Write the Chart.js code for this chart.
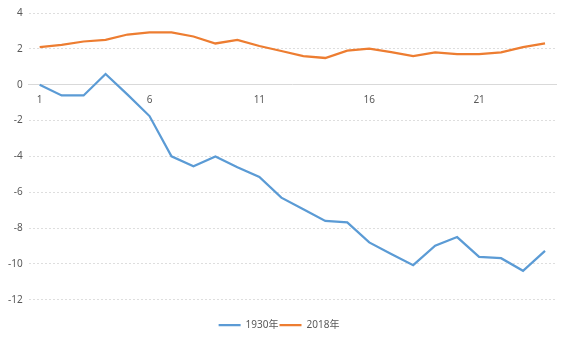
<!DOCTYPE html>
<html>
<head>
<meta charset="utf-8">
<script src="https://cdn.jsdelivr.net/npm/chart.js@4"></script>
<style>
  html, body { margin: 0; padding: 0; background: #fff; }
  #wrap { width: 568px; height: 342px; }
</style>
</head>
<body>
<div id="wrap"><canvas id="myChart" width="568" height="342"></canvas></div>
<script>
const ctx = document.getElementById('myChart');

const days = ['1','2','3','4','5','6','7','8','9','10','11','12','13','14','15','16','17','18','19','20','21','22','23','24'];
const seriesNames = ['1930年', '2018年'];
const values1930 = [0, -0.6, -0.6, 0.6, -0.55, -1.75, -4.0, -4.55, -4.0, -4.6, -5.15, -6.3, -6.95, -7.6, -7.68, -8.8, -9.45, -10.07, -8.98, -8.5, -9.6, -9.68, -10.38, -9.27];
const values2018 = [2.1, 2.22, 2.41, 2.5, 2.8, 2.92, 2.92, 2.69, 2.3, 2.5, 2.16, 1.88, 1.6, 1.49, 1.9, 2.01, 1.82, 1.6, 1.8, 1.7, 1.7, 1.8, 2.1, 2.31];

const fontFamily = '"Noto Sans", "Noto Sans CJK SC", sans-serif';

new Chart(ctx, {
    type: 'line',
    data: {
        labels: days,
        datasets: [{
            label: seriesNames[0],
            data: values1930,
            borderColor: '#5b9bd5',
            backgroundColor: '#5b9bd5',
            borderWidth: 2.25,
            pointRadius: 0,
            tension: 0
        }, {
            label: seriesNames[1],
            data: values2018,
            borderColor: '#ed7d31',
            backgroundColor: '#ed7d31',
            borderWidth: 2.25,
            pointRadius: 0,
            tension: 0
        }]
    },
    options: {
        responsive: false,
        animation: false,
        layout: {
            padding: { left: 2, right: 12, top: 13, bottom: 2 }
        },
        plugins: {
            tooltip: { enabled: false },
            legend: {
                position: 'bottom',
                // empty title only used as spacer above the legend row
                title: { display: true, text: '', font: { size: 1 }, padding: { top: 18, bottom: 0 } },
                labels: {
                    usePointStyle: true,
                    pointStyle: 'line',
                    pointStyleWidth: 22,
                    boxHeight: 10,
                    padding: 1,
                    color: '#595959',
                    font: { family: fontFamily, size: 10 }
                }
            }
        },
        scales: {
            x: {
                position: { y: 0 },
                offset: true,
                grid: { display: true, drawOnChartArea: false, drawTicks: false },
                border: { display: true, color: '#d9d9d9', width: 1 },
                ticks: {
                    autoSkip: false,
                    maxRotation: 0,
                    padding: 9,
                    color: '#595959',
                    font: { family: fontFamily, size: 10 },
                    callback: function (val, index) {
                        return index % 5 === 0 ? this.getLabelForValue(val) : '';
                    }
                }
            },
            y: {
                min: -12,
                max: 4,
                ticks: {
                    stepSize: 2,
                    padding: 6,
                    color: '#595959',
                    font: { family: fontFamily, size: 10 }
                },
                grid: {
                    color: '#dedede',
                    drawTicks: false
                },
                border: { display: false, dash: [2, 2] }
            }
        }
    }
});
</script>
</body>
</html>
